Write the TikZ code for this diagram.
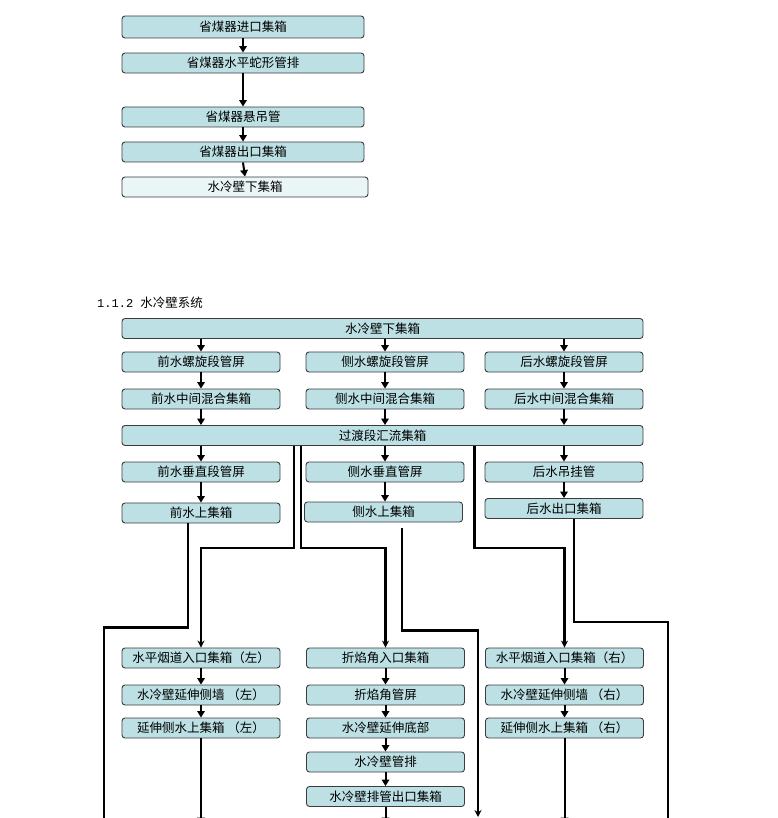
\documentclass[tikz,border=0pt]{standalone}
\usepackage{fontspec}
\setmainfont{Noto Sans CJK SC}
\newfontfamily\monofam{Liberation Mono}
\usetikzlibrary{arrows.meta}
\definecolor{boxfill}{RGB}{188,224,227}
\definecolor{boxlight}{RGB}{234,245,246}
\definecolor{boxline}{RGB}{60,60,60}
\tikzset{
  box/.style={draw=boxline, fill=boxfill, rounded corners=3pt, line width=0.9pt,
    inner sep=0pt, minimum height=20pt, minimum width=158pt,
    font=\fontsize{12.5}{14}\selectfont},
  arr/.style={line width=2pt, -{Triangle[width=7.5pt,length=6.5pt]}},
  pipe/.style={line width=2.5pt},
  pipearr/.style={line width=2.5pt, -{Stealth[width=7pt,length=7pt]}},
}
\begin{document}
\begin{tikzpicture}[x=1pt,y=-1pt]
\useasboundingbox (0,0) rectangle (777,818);
\clip (0,0) rectangle (777,818);
% ---- top section ----
\node[box, minimum width=242pt, minimum height=22pt] (a1) at (243,27) {省煤器进口集箱};
\node[box, minimum width=242pt] (a2) at (243,63) {省煤器水平蛇形管排};
\node[box, minimum width=242pt] (a3) at (243,117) {省煤器悬吊管};
\node[box, minimum width=242pt] (a4) at (243,152) {省煤器出口集箱};
\node[box, minimum width=246pt, fill=boxlight] (a5) at (245,187) {水冷壁下集箱};
\draw[arr] (a1.south) -- (a2.north);
\draw[arr] (a2.south) -- (a3.north);
\draw[arr] (a3.south) -- (a4.north);
\draw[arr] (a4.south) -- (a5.north);
% ---- title ----
\node[anchor=west, inner sep=0pt, font=\fontsize{12.5}{14}\selectfont] (title) at (97,303) {{\monofam\fontsize{12}{14}\selectfont 1.1.2 }水冷壁系统};
% ---- water wall system ----
\node[box, minimum width=521pt] (w0) at (382.5,328.5) {水冷壁下集箱};
\node[box] (f1) at (201,362) {前水螺旋段管屏};
\node[box] (s1) at (385,362) {侧水螺旋段管屏};
\node[box] (r1) at (564,362) {后水螺旋段管屏};
\node[box] (f2) at (201,399) {前水中间混合集箱};
\node[box] (s2) at (385,399) {侧水中间混合集箱};
\node[box] (r2) at (564,399) {后水中间混合集箱};
\node[box, minimum width=521pt] (t0) at (382.5,435.5) {过渡段汇流集箱};
\node[box] (f3) at (201,472) {前水垂直段管屏};
\node[box] (s3) at (385,472) {侧水垂直管屏};
\node[box] (r3) at (564,472) {后水吊挂管};
\node[box] (f4) at (201,513) {前水上集箱};
\node[box] (s4) at (383.5,512) {侧水上集箱};
\node[box] (r4) at (564,508.5) {后水出口集箱};
\node[box] (g1) at (201,658) {水平烟道入口集箱（左）};
\node[box] (h1) at (385.5,658) {折焰角入口集箱};
\node[box] (k1) at (564.5,658) {水平烟道入口集箱（右）};
\node[box] (g2) at (201,695) {水冷壁延伸侧墙 （左）};
\node[box] (h2) at (385.5,695) {折焰角管屏};
\node[box] (k2) at (564.5,695) {水冷壁延伸侧墙 （右）};
\node[box] (g3) at (201,728) {延伸侧水上集箱 （左）};
\node[box] (h3) at (385.5,728) {水冷壁延伸底部};
\node[box] (k3) at (564.5,728) {延伸侧水上集箱 （右）};
\node[box] (h4) at (385.5,762) {水冷壁管排};
\node[box] (h5) at (385.5,796.5) {水冷壁排管出口集箱};
% arrows between rows
\foreach \n in {f1,s1,r1}{\draw[arr] (w0.south -| \n.north) -- (\n.north);}
\draw[arr] (f1.south) -- (f2.north);
\draw[arr] (s1.south) -- (s2.north);
\draw[arr] (r1.south) -- (r2.north);
\foreach \n in {f2,s2,r2}{\draw[arr] (\n.south) -- (t0.north -| \n.south);}
\foreach \n in {f3,s3,r3}{\draw[arr] (t0.south -| \n.north) -- (\n.north);}
\draw[arr] (f3.south) -- (f4.north);
\draw[arr] (s3.south) -- (s4.north -| s3.south);
\draw[arr] (r3.south) -- (r4.north);
\draw[arr] (g1.south) -- (g2.north);
\draw[arr] (g2.south) -- (g3.north);
\draw[arr] (h1.south) -- (h2.north);
\draw[arr] (h2.south) -- (h3.north);
\draw[arr] (h3.south) -- (h4.north);
\draw[arr] (h4.south) -- (h5.north);
\draw[arr] (k1.south) -- (k2.north);
\draw[arr] (k2.south) -- (k3.north);
% free ends at the bottom edge
\coordinate (e1) at (104,830);
\coordinate (e2) at (201,824);
\coordinate (e3) at (385.5,824);
\coordinate (e4) at (478,817);
\coordinate (e5) at (564.5,824);
\coordinate (e6) at (668,830);
\draw[arr] (g3.south) -- (e2);
\draw[arr] (h5.south) -- (e3);
\draw[arr] (k3.south) -- (e5);
% long pipes
\draw[pipe] ([xshift=-13pt]f4.south) -- ++(0,104) -| (e1);
\draw[pipearr] ([xshift=-88.5pt]t0.south) -- ++(0,102) -| (g1.north);
\draw[pipearr] ([xshift=-81.5pt]t0.south) -- ++(0,102) -| (h1.north);
\draw[pipearr] ([xshift=18.5pt,yshift=-6pt]s4.south) -- ++(0,102) -| (e4);
\draw[pipearr] ([xshift=92pt]t0.south) -- ++(0,102) -| (k1.north);
\draw[pipe] ([xshift=10pt]r4.south) -- ++(0,103) -| (e6);
\end{tikzpicture}
\end{document}
